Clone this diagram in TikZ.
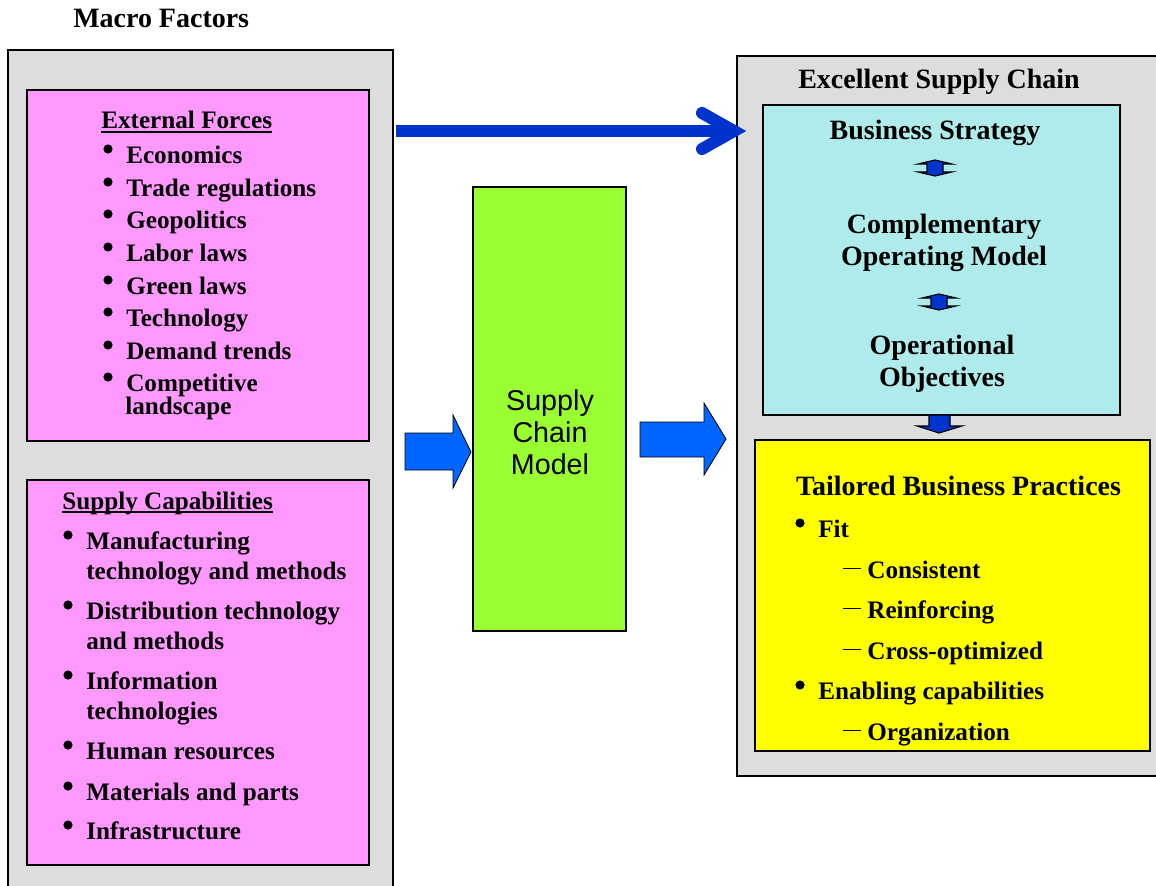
\documentclass[tikz,border=0pt]{standalone}
\usepackage{fontspec}
\setmainfont{Liberation Serif}
\newfontfamily\arialfont{Liberation Sans}
\usetikzlibrary{positioning}

\definecolor{boxgray}{HTML}{DDDDDD}
\definecolor{forcepink}{HTML}{FF99FF}
\definecolor{modelgreen}{HTML}{99FF33}
\definecolor{stratcyan}{HTML}{B0EBEB}
\definecolor{practiceyellow}{HTML}{FFFF00}
\definecolor{darkblue}{HTML}{0033CC}
\definecolor{brightblue}{HTML}{0066FF}

\newcommand{\subdash}{\rule[6.2pt]{12.8pt}{1.1pt}\hspace{4.3pt}}
\newcommand{\ulhead}[1]{\setbox0\hbox{#1}\rlap{\rule[-2.6pt]{\wd0}{1.3pt}}\box0}

\tikzset{
  box/.style={draw=black, line width=1.2pt, inner sep=0pt},
  graybox/.style={box, fill=boxgray},
  pinkbox/.style={box, fill=forcepink},
  item/.style={inner sep=0pt, anchor=base west, font=\bfseries\fontsize{17.9pt}{22pt}\selectfont},
  head/.style={inner sep=0pt, anchor=base, font=\bfseries\fontsize{19.9pt}{24pt}\selectfont},
  modeltext/.style={inner sep=0pt, align=center, font=\arialfont\fontsize{20.4pt}{22.8pt}\selectfont},
  dot/.style={fill=black},
  flowline/.style={draw=darkblue, line width=0.3cm},
  blockarrow/.style={fill=brightblue, draw=black, line width=0.6pt},
  link/.style={fill=darkblue, draw=black, line width=0.8pt, line join=miter}
}

\begin{document}
\begin{tikzpicture}[x=0.025cm, y=-0.025cm]
  \useasboundingbox (0,0) rectangle (1156,886);

  % macro factors
  \node[head, anchor=base west] (macrotitle) at (73,28) {Macro Factors};
  \node[graybox, minimum width=9.625cm, minimum height=21cm] (macro) at (200.5,470) {};

  \node[pinkbox, minimum width=8.55cm, minimum height=8.775cm] (external) at (198,265.5) {};
  \node[item] (exthead) at (101,129) {\ulhead{External Forces}};
  \foreach \t/\y [count=\i] in {Economics/163, Trade regulations/196, Geopolitics/228,
      Labor laws/261, Green laws/294, Technology/326, Demand trends/359, Competitive/391}
    \node[item] (ext\i) at (126,\y) {\t};
  \node[item] (ext9) at (125,414) {landscape};

  \node[pinkbox, minimum width=8.55cm, minimum height=9.625cm] (capab) at (198,672.5) {};
  \node[item] (caphead) at (62,509) {\ulhead{Supply Capabilities}};
  \node[item] (cap1) at (86,549) {Manufacturing};
  \node[item] (cap1b) at (86,579) {technology and methods};
  \node[item] (cap2) at (86,619) {Distribution technology};
  \node[item] (cap2b) at (86,649) {and methods};
  \node[item] (cap3) at (86,689) {Information};
  \node[item] (cap3b) at (86,719) {technologies};
  \node[item] (cap4) at (86,759) {Human resources};
  \node[item] (cap5) at (86,800) {Materials and parts};
  \node[item] (cap6) at (86,839) {Infrastructure};

  % supply chain model
  \node[box, fill=modelgreen, minimum width=3.825cm, minimum height=11.1cm] (model) at (549.5,409) {};
  \node[modeltext] (modellabel) at (550,432) {Supply\\Chain\\Model};

  % excellent supply chain
  \node[graybox, minimum width=10.575cm, minimum height=18cm] (excellent) at (948.5,416) {};
  \node[head] (exctitle) at (939,89) {Excellent Supply Chain};

  \node[box, fill=stratcyan, minimum width=8.925cm, minimum height=7.75cm] (strategy) at (941.5,260) {};
  \node[head] (biz) at (935,140) {Business Strategy};
  \node[head] (comp1) at (944,233) {Complementary};
  \node[head] (comp2) at (944,265) {Operating Model};
  \node[head] (oper1) at (942,354) {Operational};
  \node[head] (oper2) at (942,386) {Objectives};

  \node[box, fill=practiceyellow, minimum width=9.875cm, minimum height=7.775cm] (practices) at (952.5,595.5) {};
  \node[head] (tailored) at (958.5,495) {Tailored Business Practices};
  \node[item] (fit) at (818,537) {Fit};
  \node[item] (fit1) at (843,578) {\subdash Consistent};
  \node[item] (fit2) at (843,618) {\subdash Reinforcing};
  \node[item] (fit3) at (843,659) {\subdash Cross-optimized};
  \node[item] (enable) at (818,699) {Enabling capabilities};
  \node[item] (enable1) at (843,740) {\subdash Organization};

  % bullets
  \foreach \n in {ext1,ext2,ext3,ext4,ext5,ext6,ext7,ext8,cap1,cap2,cap3,cap4,cap5,cap6,fit,enable}
    \fill[dot] ([shift={(-18,-14)}]\n.base west) circle[radius=0.115cm];

  % long arrow across the top
  \coordinate (flowstart) at (396,131);
  \coordinate (flowtip) at (734,131);
  \draw[flowline] (flowstart) -- ([xshift=-0.1cm]flowtip);
  \draw[flowline, line cap=round, line join=miter]
    ([shift={(-32,-18)}]flowtip) -- (flowtip) -- ([shift={(-32,18)}]flowtip);

  % block arrows into and out of the model
  \filldraw[blockarrow] (405,433) -- (453,433) -- (453,415) -- (471,452)
    -- (453,488) -- (453,470) -- (405,470) -- cycle;
  \filldraw[blockarrow] (640,422) -- (704,422) -- (704,403) -- (726,439)
    -- (704,475) -- (704,457) -- (640,457) -- cycle;

  % small links inside the strategy box
  \foreach \cx/\cy in {935/168, 939/302}
    \filldraw[link, shift={(\cx,\cy)}] (-17,-4) -- (0,-8) -- (17,-4) -- (8,-4) -- (8,4)
      -- (17,4) -- (0,8) -- (-17,4) -- (-8,4) -- (-8,-4) -- cycle;
  \filldraw[link] (929,415) -- (950,415) -- (950,426) -- (962,426) -- (939,433)
    -- (917,426) -- (929,426) -- cycle;
\end{tikzpicture}
\end{document}
